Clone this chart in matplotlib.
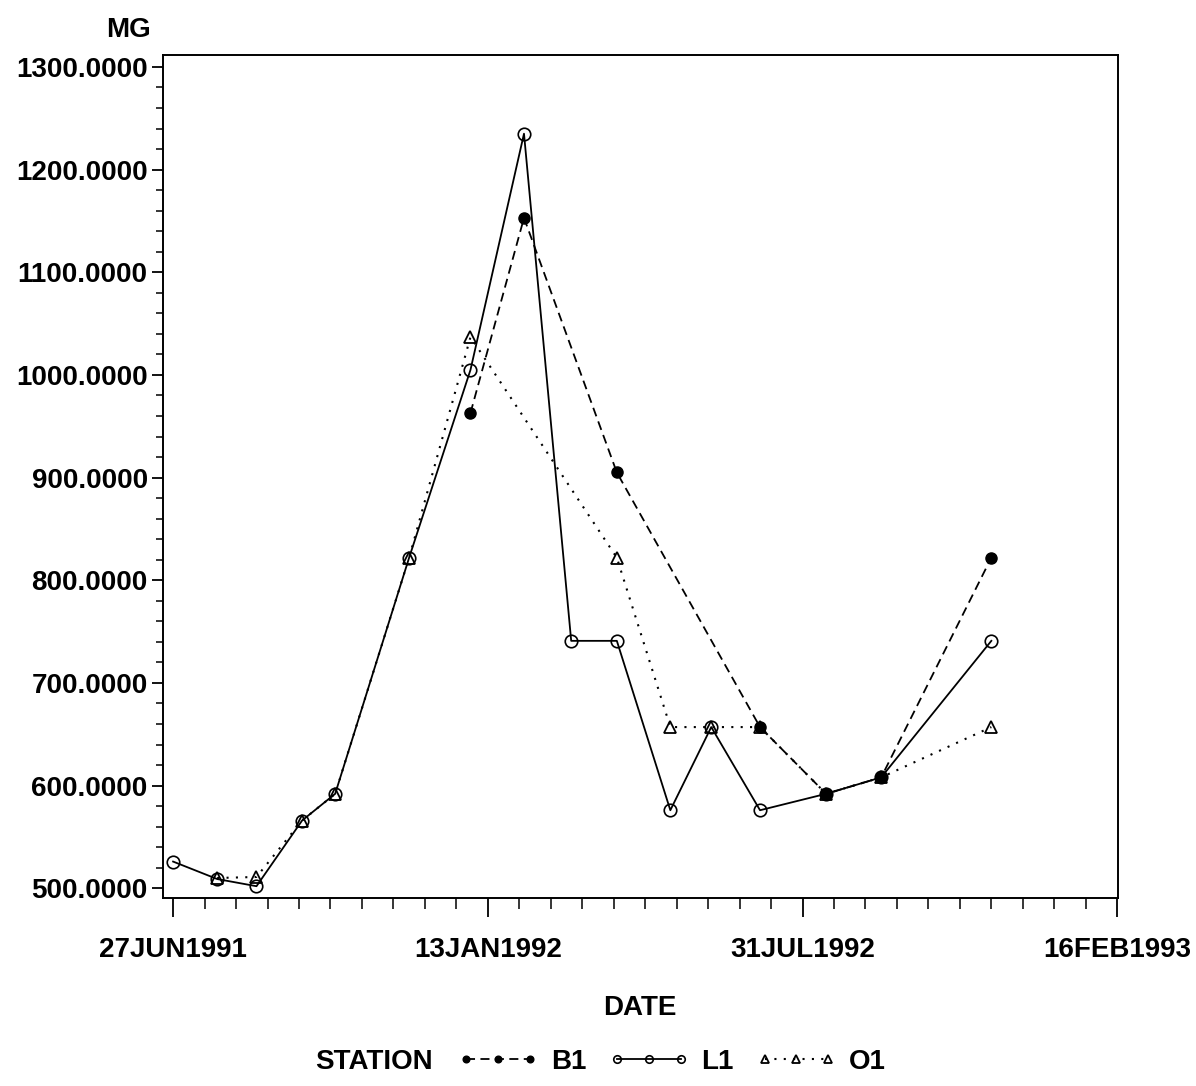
import matplotlib
matplotlib.use('Agg')
import matplotlib.pyplot as plt
import matplotlib.dates as mdates
import numpy as np
from datetime import datetime, timedelta

# datos por estacion (fecha, MG)
l1_fechas = ['1991-06-27', '1991-07-25', '1991-08-19', '1991-09-17', '1991-10-08',
             '1991-11-24', '1992-01-02', '1992-02-05', '1992-03-06', '1992-04-04',
             '1992-05-08', '1992-06-03', '1992-07-04', '1992-08-15', '1992-09-19',
             '1992-11-28']
l1_mg = [526, 509, 502, 566, 592, 822, 1005, 1235, 741, 741, 576, 657, 576, 592, 608, 741]

b1_fechas = ['1992-01-02', '1992-02-05', '1992-04-04', '1992-07-04', '1992-08-15',
             '1992-09-19', '1992-11-28']
b1_mg = [963, 1153, 905, 657, 592, 608, 822]

o1_fechas = ['1991-07-25', '1991-08-19', '1991-09-17', '1991-10-08', '1991-11-24',
             '1992-01-02', '1992-04-04', '1992-05-08', '1992-06-03', '1992-07-04',
             '1992-08-15', '1992-09-19', '1992-11-28']
o1_mg = [510, 511, 566, 592, 822, 1037, 822, 657, 657, 657, 592, 608, 657]

ticks_x = ['27JUN1991', '13JAN1992', '31JUL1992', '16FEB1993']
ticks_y = [500, 600, 700, 800, 900, 1000, 1100, 1200, 1300]

def fechas(lista):
    return [datetime.strptime(f, '%Y-%m-%d') for f in lista]

fuente = dict(family='Liberation Sans', fontweight='bold')

fig = plt.figure(figsize=(11.96, 10.86), dpi=100)
ax = fig.add_axes([0.1363, 0.1731, 0.7985, 0.7763])

ax.plot(fechas(b1_fechas), b1_mg, color='black', ls=(0, (5, 3)), lw=1.3,
        marker='o', ms=8, mfc='black', mec='black', label='B1')
ax.plot(fechas(l1_fechas), l1_mg, color='black', ls='-', lw=1.3,
        marker='o', ms=9, mfc='none', mec='black', mew=1.2, label='L1')
ax.plot(fechas(o1_fechas), o1_mg, color='black', ls=(0, (1, 3.5)), lw=1.5,
        marker='^', ms=9, mfc='none', mec='black', mew=1.3, label='O1')

# eje x: marcas cada 200 dias, menores cada 20
inicio = datetime.strptime(ticks_x[0], '%d%b%Y')
fin = datetime.strptime(ticks_x[-1], '%d%b%Y')
mayores = [datetime.strptime(t, '%d%b%Y') for t in ticks_x]
menores = [inicio + timedelta(days=d) for d in range(0, 601, 20)]
ax.set_xlim(mdates.date2num(inicio) - 6.4, mdates.date2num(fin) + 0.5)
ax.xaxis.set_major_locator(matplotlib.ticker.FixedLocator(mdates.date2num(mayores)))
ax.xaxis.set_minor_locator(matplotlib.ticker.FixedLocator(mdates.date2num(menores)))
ax.set_xticklabels(ticks_x, fontsize=20, **fuente)

ax.set_ylim(490.5, 1311.7)
ax.set_yticks(ticks_y)
ax.set_yticks(np.arange(500, 1301, 20), minor=True)
ax.set_yticklabels([f'{v:.4f}' for v in ticks_y], fontsize=20, **fuente)

ax.tick_params(axis='x', which='major', length=14, width=1.3, pad=14)
ax.tick_params(axis='x', which='minor', length=8, width=1.1)
ax.tick_params(axis='y', which='major', length=8, width=1.3, pad=3)
ax.tick_params(axis='y', which='minor', length=5, width=1.1)
for s in ax.spines.values():
    s.set_linewidth(1.4)

fig.text(128 / 1196, 1 - 30 / 1086, 'MG', ha='center', va='center', fontsize=20, **fuente)
fig.text(640 / 1196, 1 - 1008 / 1086, 'DATE', ha='center', va='center', fontsize=20, **fuente)
fig.text(374 / 1196, 1 - 1062 / 1086, 'STATION', ha='center', va='center', fontsize=20, **fuente)

leg = fig.legend(loc='center', bbox_to_anchor=(672 / 1196, 1 - 1062 / 1086), ncol=3,
                 frameon=False, numpoints=3, markerscale=0.6, handlelength=2.9,
                 handletextpad=0.45, columnspacing=0.8,
                 prop={'family': 'Liberation Sans', 'weight': 'bold', 'size': 20})

fig.savefig('out.png', dpi=100)
